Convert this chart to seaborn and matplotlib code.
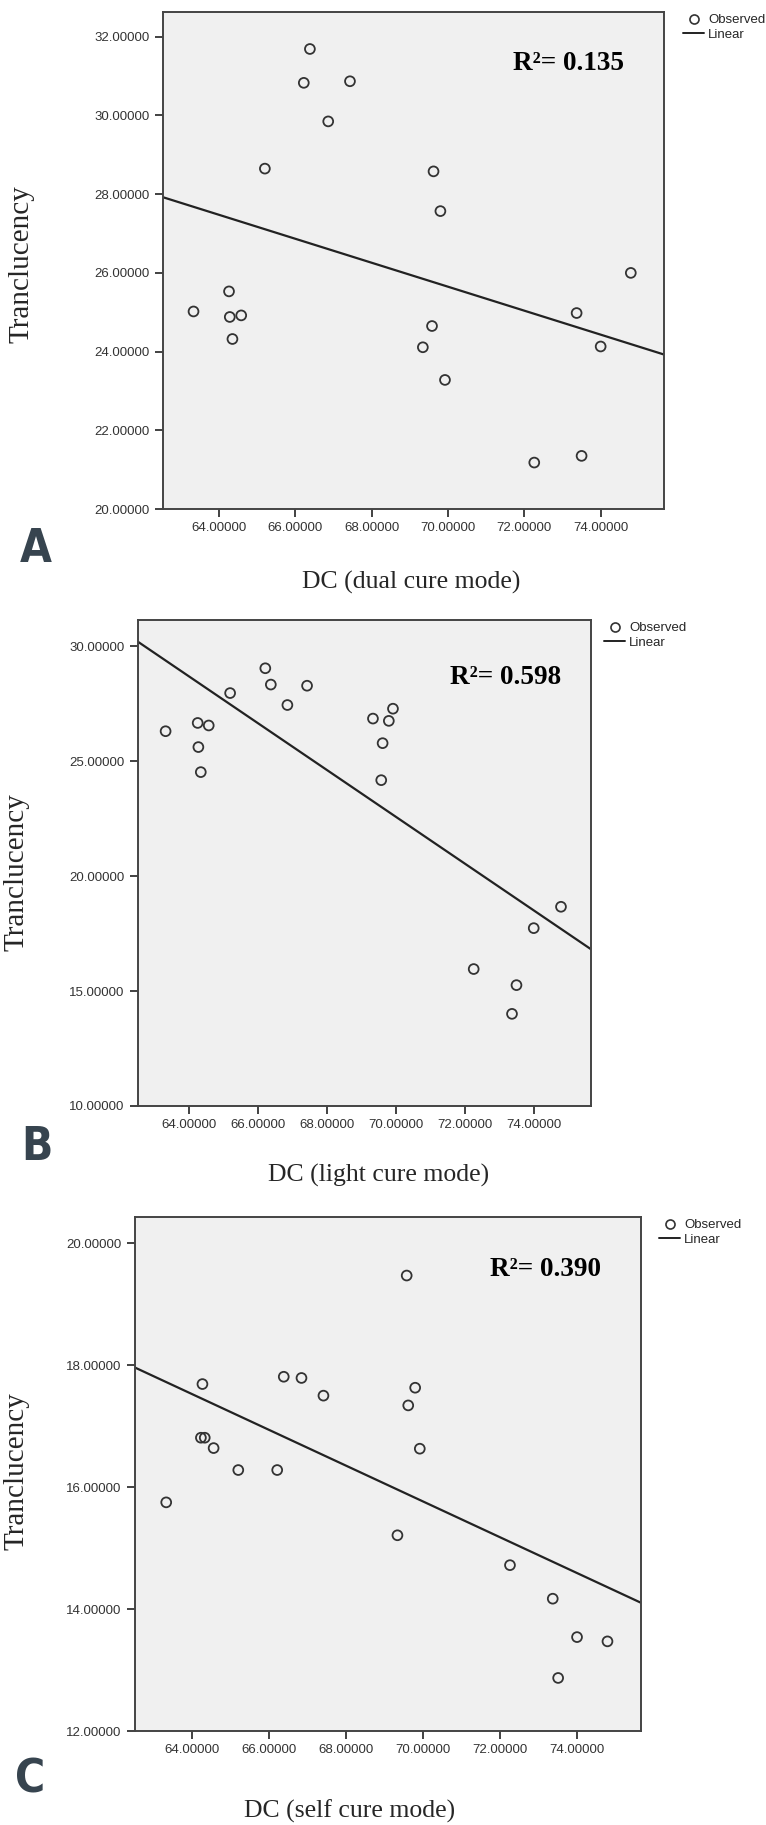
import numpy as np
import pandas as pd
import matplotlib
matplotlib.use("Agg")
import matplotlib.pyplot as plt
from matplotlib.lines import Line2D
import seaborn as sns

# degree of conversion (same specimens in all three panels)
dc = [63.33, 64.26, 64.28, 64.58, 64.35, 65.20, 66.22, 66.38, 66.86, 67.43,
      69.62, 69.80, 69.58, 69.34, 69.92, 72.26, 73.50, 73.37, 74.00, 74.79]

transl_dual = [25.02, 25.53, 24.88, 24.92, 24.32, 28.65, 30.83, 31.69, 29.85, 30.87,
               28.58, 27.57, 24.65, 24.11, 23.28, 21.18, 21.35, 24.98, 24.13, 26.00]

transl_light = [26.31, 26.67, 25.62, 26.56, 24.53, 27.97, 29.05, 28.34, 27.45, 28.29,
                25.79, 26.76, 24.18, 26.86, 27.29, 15.96, 15.26, 14.01, 17.74, 18.67]

transl_self = [15.75, 16.81, 16.81, 16.64, 17.69, 16.28, 16.28, 17.81, 17.79, 17.50,
               17.34, 17.63, 19.47, 15.21, 16.63, 14.72, 12.87, 14.17, 13.54, 13.47]

dc_self = [63.34, 64.24, 64.34, 64.57, 64.28, 65.21, 66.22, 66.39, 66.85, 67.42,
           69.62, 69.80, 69.58, 69.34, 69.92, 72.26, 73.51, 73.37, 74.00, 74.79]

panel_letters = ["A", "B", "C"]
x_labels = ["DC (dual cure mode)", "DC (light cure mode)", "DC (self cure mode)"]
r2_labels = ["0.135", "0.598", "0.390"]
y_ticks = [np.arange(20, 33, 2), np.arange(10, 31, 5), np.arange(12, 21, 2)]
y_lims = [(20, 32.63), (10, 31.15), (12, 20.43)]
x_ticks = np.arange(64, 75, 2)

W, H = 766, 1825
sns.set_style("white", {"axes.facecolor": "#f0f0f0", "axes.edgecolor": "#444444"})
plt.rcParams["font.family"] = ["Liberation Sans", "DejaVu Sans"]

fig = plt.figure(figsize=(W / 100, H / 100), dpi=100)

# axes boxes in pixels: left, right, top, bottom
boxes = [(163, 664, 12, 509), (138, 591, 620, 1106), (135, 641, 1217, 1731)]
letter_pos = [(36, 550), (37, 1147), (30, 1780)]
xlabel_pos = [(411, 582), (379, 1175), (350, 1811)]
ylabel_pos = [(22, 264), (17, 872), (17, 1471)]
r2_pos = [(513, 64), (450, 677), (490, 1269)]
legend_pos = [(683, 14), (604, 622), (659, 1219)]

datasets = [
    pd.DataFrame({"dc": dc, "t": transl_dual}),
    pd.DataFrame({"dc": dc, "t": transl_light}),
    pd.DataFrame({"dc": dc_self, "t": transl_self}),
]

for i, df in enumerate(datasets):
    l, r, t, b = boxes[i]
    ax = fig.add_axes([l / W, 1 - b / H, (r - l) / W, (b - t) / H])
    ax.set_xlim(62.53, 75.66)
    ax.set_ylim(*y_lims[i])
    # linear fit drawn across the whole x range like SPSS does
    sns.regplot(data=df, x="dc", y="t", ax=ax, scatter=False, ci=None,
                truncate=False, line_kws={"color": "#222222", "lw": 1.6})
    sns.scatterplot(data=df, x="dc", y="t", ax=ax, marker="o", s=50,
                    facecolor="none", edgecolor="#333333", linewidth=1.3, zorder=3)
    ax.set_xlim(62.53, 75.66)
    ax.set_ylim(*y_lims[i])
    ax.set_xticks(x_ticks)
    ax.set_yticks(y_ticks[i])
    ax.set_xticklabels([f"{v:.5f}" for v in x_ticks])
    ax.set_yticklabels([f"{v:.5f}" for v in y_ticks[i]])
    ax.tick_params(axis="both", labelsize=9.5, colors="#333333", length=6,
                   width=1.3, direction="out", bottom=True, left=True)
    ax.set_xlabel("")
    ax.set_ylabel("")
    for s in ax.spines.values():
        s.set_linewidth(1.4)
        s.set_color("#444444")

    fig.text(r2_pos[i][0] / W, 1 - r2_pos[i][1] / H, "R²= " + r2_labels[i],
             family="Liberation Serif", weight="bold", fontsize=19.5,
             ha="left", va="center", color="black")

    fig.text(letter_pos[i][0] / W, 1 - letter_pos[i][1] / H, panel_letters[i],
             family="DejaVu Sans", fontstretch="condensed", weight="bold",
             fontsize=33, ha="center", va="center", color="#37444f")
    fig.text(xlabel_pos[i][0] / W, 1 - xlabel_pos[i][1] / H, x_labels[i],
             family="Liberation Serif", fontsize=18.5, ha="center", va="center")
    fig.text(ylabel_pos[i][0] / W, 1 - ylabel_pos[i][1] / H, "Tranclucency",
             family="Liberation Serif", fontsize=21, rotation=90,
             ha="center", va="center")

    handles = [
        Line2D([], [], marker="o", ls="none", mfc="none", mec="#333333", ms=6.5, mew=1.2),
        Line2D([], [], color="#222222", lw=1.4),
    ]
    fig.legend(handles, ["Observed", "Linear"], loc="upper left",
               bbox_to_anchor=(legend_pos[i][0] / W, 1 - legend_pos[i][1] / H),
               frameon=False, fontsize=9.5, handlelength=1.6, handletextpad=0.3,
               labelspacing=0.2, borderpad=0, borderaxespad=0)

fig.savefig("out.png", dpi=100)
